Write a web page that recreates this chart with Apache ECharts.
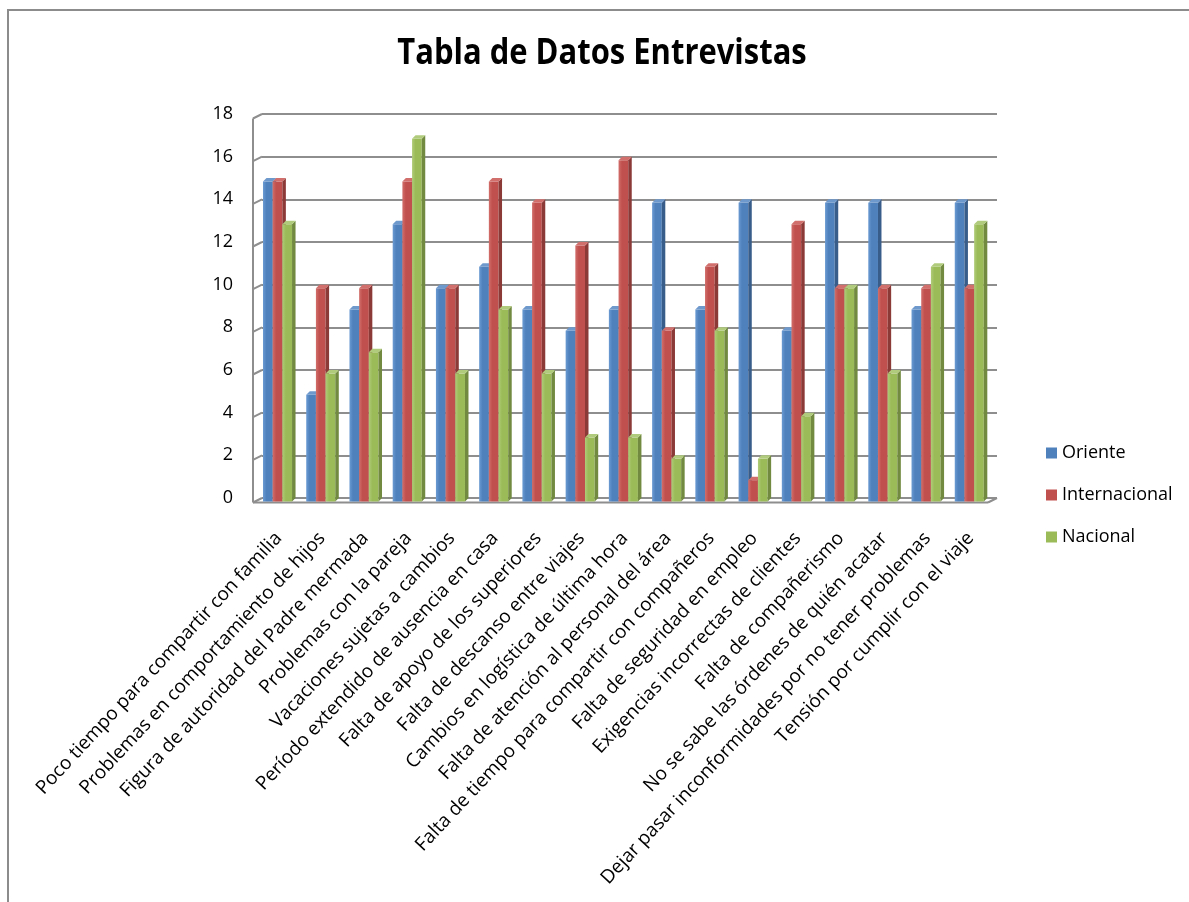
<!DOCTYPE html>
<html>
<head>
<meta charset="utf-8">
<script src="https://cdn.jsdelivr.net/npm/echarts@6/dist/echarts.min.js"></script>
<style>
  html, body { margin: 0; padding: 0; background: #ffffff; }
  #chart { width: 1189px; height: 902px; }
</style>
</head>
<body>
<div id="chart"></div>
<script>
// Interview data: problems reported, per group
const categories = [
  'Poco tiempo para compartir con familia',
  'Problemas en comportamiento de hijos',
  'Figura de autoridad del Padre mermada',
  'Problemas con la pareja',
  'Vacaciones sujetas a cambios',
  'Período extendido de ausencia en casa',
  'Falta de apoyo de los superiores',
  'Falta de descanso entre viajes',
  'Cambios en logística de última hora',
  'Falta de atención al personal del área',
  'Falta de tiempo para compartir con compañeros',
  'Falta de seguridad en empleo',
  'Exigencias incorrectas de clientes',
  'Falta de compañerismo',
  'No se sabe las órdenes de quién acatar',
  'Dejar pasar inconformidades por no tener problemas',
  'Tensión por cumplir con el viaje'
];
const seriesNames = ['Oriente', 'Internacional', 'Nacional'];
const oriente       = [15, 5, 9, 13, 10, 11, 9, 8, 9, 14, 9, 14, 8, 14, 14, 9, 14];
const internacional = [15, 10, 10, 15, 10, 15, 14, 12, 16, 8, 11, 1, 13, 10, 10, 10, 10];
const nacional      = [13, 6, 7, 17, 6, 9, 6, 3, 3, 2, 8, 2, 4, 10, 6, 11, 13];
const yTicks = [0, 2, 4, 6, 8, 10, 12, 14, 16, 18];

const palette = [
  { front: '#4F81BD', light: '#6C9BD2', side: '#385D8A', top: '#6E99CD' },
  { front: '#C0504D', light: '#D26F6C', side: '#8C3A38', top: '#D06F6C' },
  { front: '#9BBB59', light: '#B0CC78', side: '#718A40', top: '#B1CB7C' }
];

const DEPTH = 3.5;    // bar depth offset (px)
const WALL_DX = 9;    // side wall depth, horizontal
const WALL_DY = 4.5;  // side wall depth, vertical

// Draws one 3D-looking column: front face, right side and top
function columnRenderer(k) {
  const col = palette[k];
  const frontFill = new echarts.graphic.LinearGradient(0, 0, 1, 0, [
    { offset: 0, color: col.light },
    { offset: 0.35, color: col.front },
    { offset: 1, color: col.front }
  ]);
  return function (params, api) {
    const i = api.value(0);
    const v = api.value(1);
    const tip = api.coord([i, v]);
    const base = api.coord([i, 0]);
    const band = api.size([1, 0])[0];
    const w = band * 0.224;
    const bx = tip[0] - 1.5 * w - 2.6 + k * w;   // back-left corner x
    const ty = tip[1];
    const by = base[1];
    return {
      type: 'group',
      children: [
        {
          type: 'rect',
          shape: { x: bx - DEPTH, y: ty + DEPTH, width: w, height: Math.max(0, by - ty) },
          style: { fill: frontFill }
        },
        {
          type: 'polygon',
          shape: { points: [[bx - DEPTH + w, ty + DEPTH], [bx + w, ty], [bx + w, by], [bx - DEPTH + w, by + DEPTH]] },
          style: { fill: col.side }
        },
        {
          type: 'polygon',
          shape: { points: [[bx - DEPTH, ty + DEPTH], [bx - DEPTH + w, ty + DEPTH], [bx + w, ty], [bx, ty]] },
          style: { fill: col.top }
        }
      ]
    };
  };
}

// Side wall and floor edges of the 3D plot box
function frameRenderer(params, api) {
  const cs = params.coordSys;
  const t = api.value(1);
  const p = api.coord([0, t]);
  const line = { stroke: '#8E8E8E', lineWidth: 2 };
  const children = [
    { type: 'line', shape: { x1: cs.x - WALL_DX, y1: p[1] + WALL_DY, x2: cs.x, y2: p[1] }, style: line }
  ];
  if (params.dataIndex === 0) {
    const y0 = cs.y + cs.height;
    children.push(
      { type: 'line', shape: { x1: cs.x - WALL_DX, y1: cs.y + WALL_DY, x2: cs.x - WALL_DX, y2: y0 + WALL_DY }, style: line },
      { type: 'line', shape: { x1: cs.x - WALL_DX, y1: y0 + WALL_DY, x2: cs.x + cs.width - WALL_DX, y2: y0 + WALL_DY }, style: line },
      { type: 'line', shape: { x1: cs.x + cs.width - WALL_DX, y1: y0 + WALL_DY, x2: cs.x + cs.width, y2: y0 }, style: line }
    );
  }
  return { type: 'group', children: children };
}

const values = [oriente, internacional, nacional];
const columnSeries = seriesNames.map(function (name, k) {
  return {
    name: name,
    type: 'custom',
    renderItem: columnRenderer(k),
    itemStyle: { color: palette[k].front },
    encode: { x: 0, y: 1 },
    data: values[k].map(function (v, i) { return [i, v]; }),
    z: 3
  };
});

const chart = echarts.init(document.getElementById('chart'), null, { renderer: 'canvas' });
chart.setOption({
  animation: false,
  backgroundColor: '#ffffff',
  textStyle: { fontFamily: 'Open Sans' },
  graphic: [
    {
      type: 'rect',
      shape: { x: 8, y: 10, width: 1400, height: 1100 },
      style: { fill: 'none', stroke: '#8C8C8C', lineWidth: 2 },
      silent: true,
      z: 0
    },
    {
      // chart title, slightly condensed
      type: 'text',
      x: 602,
      y: 54,
      scaleX: 0.86,
      style: {
        text: 'Tabla de Datos Entrevistas',
        fontFamily: 'Open Sans',
        fontSize: 36,
        fontWeight: 'bold',
        fill: '#000000',
        align: 'center',
        verticalAlign: 'middle'
      },
      z: 10
    }
  ],
  legend: {
    data: seriesNames,
    orient: 'vertical',
    left: 1041,
    top: 437,
    icon: 'rect',
    itemWidth: 11,
    itemHeight: 11,
    itemGap: 20,
    textStyle: { fontSize: 18, color: '#000000', lineHeight: 22, fontFamily: 'Open Sans' }
  },
  grid: { left: 262, right: 192, top: 114, bottom: 404, containLabel: false },
  xAxis: {
    type: 'category',
    data: categories,
    axisLine: { show: false },
    axisTick: { show: false },
    splitLine: { show: false },
    axisLabel: {
      interval: 0,
      rotate: 47,
      margin: 32,
      padding: [0, 7, 0, 0],
      fontSize: 19,
      color: '#000000',
      fontFamily: 'Open Sans'
    }
  },
  yAxis: {
    type: 'value',
    min: 0,
    max: 18,
    interval: 2,
    axisLine: { show: false },
    axisTick: { show: false },
    splitLine: { show: true, lineStyle: { color: '#8E8E8E', width: 2 } },
    axisLabel: { fontSize: 18, color: '#000000', margin: 29, fontFamily: 'Open Sans' }
  },
  series: [
    {
      name: 'frame',
      type: 'custom',
      silent: true,
      renderItem: frameRenderer,
      encode: { x: 0, y: 1 },
      data: yTicks.map(function (t) { return [0, t]; }),
      z: 1
    }
  ].concat(columnSeries)
});
</script>
</body>
</html>
